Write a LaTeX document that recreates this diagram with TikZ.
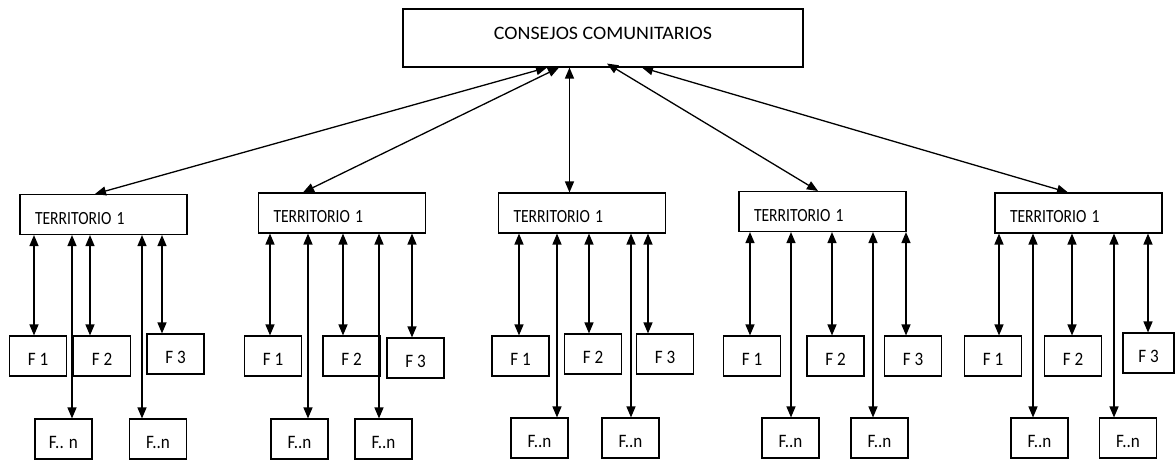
\documentclass[tikz,border=0pt]{standalone}
\usepackage{fontspec}
\setmainfont{Carlito}
\usetikzlibrary{arrows.meta}
\newcommand{\toptxt}[1]{\scalebox{1.05}[1]{#1}}
\newcommand{\tertxt}[1]{\scalebox{0.84}[1]{#1}}
\newcommand{\famtxt}[1]{\scalebox{0.9}[1]{#1}}
\tikzset{
  topbox/.style={draw, line width=1.1pt, inner sep=0pt, minimum width=400pt, minimum height=58pt,
    font=\fontsize{19}{21}\selectfont, text height=12.2pt, text depth=10pt},
  terbox/.style={draw, line width=1.1pt, inner xsep=15pt, inner ysep=0pt, minimum width=167pt, minimum height=40pt,
    text width=137pt, align=left, font=\fontsize{18.6}{20}\selectfont, text height=19pt, text depth=0pt},
  fambox/.style={draw, line width=1.1pt, inner sep=0pt, minimum width=57pt, minimum height=40pt,
    font=\fontsize{19}{21}\selectfont, text height=18pt, text depth=0pt},
  bi/.style={line width=1.3pt, {Triangle[length=11pt,width=9pt]}-{Triangle[length=11pt,width=9pt]}}
}
\begin{document}
\begin{tikzpicture}[x=1pt,y=-1pt]
\useasboundingbox (0,0) rectangle (1175,459);

\node[topbox] (top) at (603,38) {\toptxt{CONSEJOS COMUNITARIOS}};

\node[terbox] (t1) at (103.5,214.5) {\tertxt{TERRITORIO 1}};
\node[terbox] (t2) at (342,213) {\tertxt{TERRITORIO 1}};
\node[terbox] (t3) at (582,213) {\tertxt{TERRITORIO 1}};
\node[terbox] (t4) at (822.5,211.5) {\tertxt{TERRITORIO 1}};
\node[terbox] (t5) at (1078.5,213) {\tertxt{TERRITORIO 1}};

% territorio 1
\node[fambox] (a1) at (38,356) {\famtxt{F 1}};
\node[fambox] (a2) at (102,356) {\famtxt{F 2}};
\node[fambox] (a3) at (175.5,354) {\famtxt{F 3}};
\node[fambox] (an) at (63.5,439) {\famtxt{F.. n}};
\node[fambox] (am) at (158,439) {\famtxt{F..n}};
% territorio 2
\node[fambox] (b1) at (273,356) {\famtxt{F 1}};
\node[fambox] (b2) at (351.5,356) {\famtxt{F 2}};
\node[fambox] (b3) at (415.5,358) {\famtxt{F 3}};
\node[fambox] (bn) at (299.5,439) {\famtxt{F..n}};
\node[fambox] (bm) at (383.5,439) {\famtxt{F..n}};
% territorio 3
\node[fambox] (c1) at (520.5,356) {\famtxt{F 1}};
\node[fambox] (c2) at (593,354) {\famtxt{F 2}};
\node[fambox] (c3) at (665,354) {\famtxt{F 3}};
\node[fambox] (cn) at (539.5,438) {\famtxt{F..n}};
\node[fambox] (cm) at (630.5,438) {\famtxt{F..n}};
% territorio 4
\node[fambox] (d1) at (752,356) {\famtxt{F 1}};
\node[fambox] (d2) at (835.5,356) {\famtxt{F 2}};
\node[fambox] (d3) at (913,356) {\famtxt{F 3}};
\node[fambox] (dn) at (790.5,438) {\famtxt{F..n}};
\node[fambox] (dm) at (879.5,438) {\famtxt{F..n}};
% territorio 5
\node[fambox] (e1) at (993,356) {\famtxt{F 1}};
\node[fambox] (e2) at (1073,356) {\famtxt{F 2}};
\node[fambox, minimum width=51pt] (e3) at (1148.5,353) {\famtxt{F 3}};
\node[fambox] (en) at (1039.5,438) {\famtxt{F..n}};
\node[fambox] (em) at (1128,438) {\famtxt{F..n}};

% consejos <-> territorios
\draw[bi] ([xshift=-56pt]top.south) -- ([xshift=-8.5pt]t1.north);
\draw[bi] ([xshift=-44pt]top.south) -- ([xshift=-39pt]t2.north);
\draw[bi] ([xshift=-33.5pt]top.south) -- ([xshift=-12.5pt]t3.north);
\draw[bi] ([xshift=4pt,yshift=4pt]top.south) -- ([xshift=-4.5pt]t4.north);
\draw[bi] ([xshift=39pt]top.south) -- ([xshift=-10.5pt]t5.north);

% territorio <-> familias
\foreach \f/\t/\dx in {a1/t1/-4, a2/t1/-12, a3/t1/-13.5, an/t1/8.5, am/t1/-16,
                       b1/t2/-3, b2/t2/-8.5, b3/t2/-3.5, bn/t2/8.5, bm/t2/-4.5,
                       c1/t3/-1.5, c2/t3/-4, c3/t3/-17, cn/t3/17.5, cm/t3/0.5,
                       d1/t4/-2, d2/t4/-3.5, d3/t4/-7, dn/t4/0.5, dm/t4/-6.5,
                       e1/t5/6, e2/t5/-1, e3/t5/-0.5, en/t5/-6.5, em/t5/-14}
  \draw[bi] ([xshift=\dx pt]\f.north |- \t.south) -- ([xshift=\dx pt]\f.north);
\end{tikzpicture}
\end{document}
